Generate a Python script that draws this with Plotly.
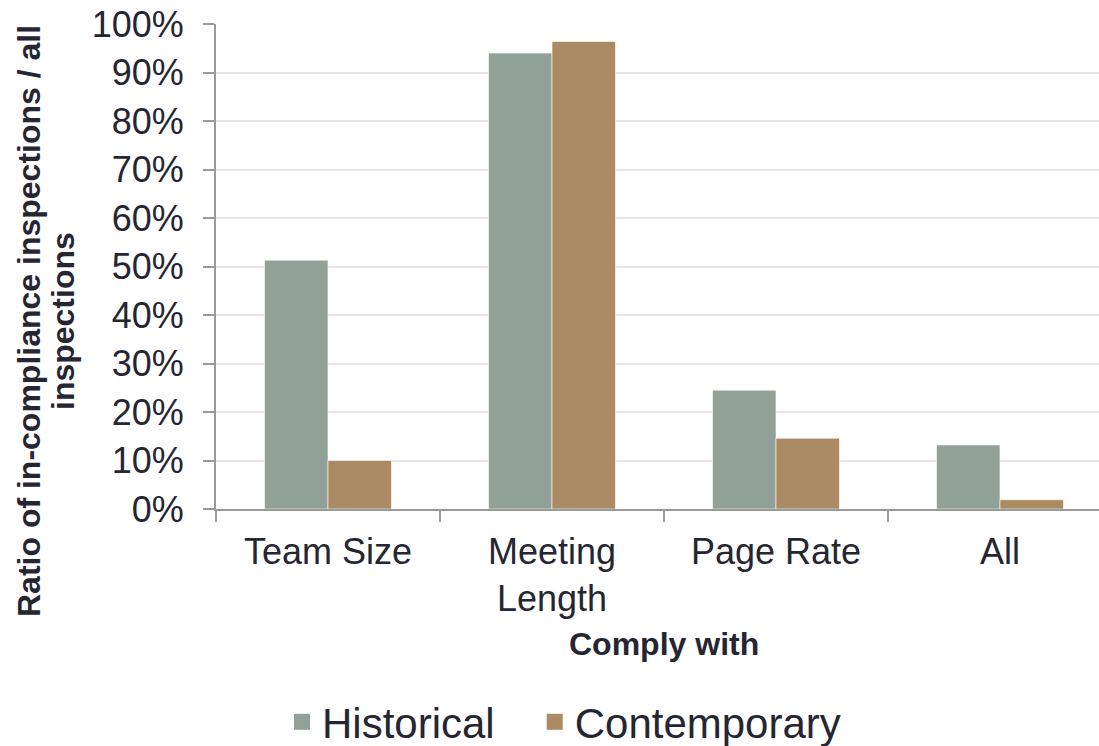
import plotly.graph_objects as go

categories = ["Team Size", "Meeting<br>Length", "Page Rate", "All"]
historical = [0.513, 0.940, 0.245, 0.132]
contemporary = [0.100, 0.964, 0.146, 0.019]
series_names = ["Historical", "Contemporary"]
y_ticks = [i / 10 for i in range(11)]
y_tick_labels = [f"{i * 10}%" for i in range(11)]

HIST_COLOR = "#91a197"
CONT_COLOR = "#aa8b63"
TEXT_COLOR = "#262633"
AXIS_COLOR = "#9a9a9a"
FONT = "Liberation Sans, Arial, sans-serif"

W, H = 1099, 746
LEFT, TOP, BOTTOM = 216, 24, 237
CAT_PX = 224  # pixels per category slot
PLOT_W, PLOT_H = W - LEFT, H - TOP - BOTTOM


def px_to_paper(x_px, y_px):
    return (x_px - LEFT) / PLOT_W, (H - BOTTOM - y_px) / PLOT_H


NBSP = "\u00a0"
fig = go.Figure()
for i, (name, vals, color) in enumerate(zip(series_names, [historical, contemporary],
                                             [HIST_COLOR, CONT_COLOR])):
    fig.add_trace(go.Bar(
        x=categories, y=vals, name=name, showlegend=False,
        marker=dict(color=color, line=dict(color="rgba(255,255,255,0.6)", width=1)),
    ))
    # legend entry with a larger square swatch; padding widens the gap between entries
    label = name + (NBSP * 3 if i == 0 else "")
    fig.add_trace(go.Scatter(
        x=[None], y=[None], mode="markers", name=label,
        marker=dict(symbol="square", size=20, color=color),
    ))

x_span = (W - LEFT) / CAT_PX

ann = []
cx, cy = px_to_paper(664, 644)
ann.append(dict(text="<b>Comply with</b>", xref="paper", yref="paper", x=cx, y=cy,
                xanchor="center", yanchor="middle", showarrow=False,
                font=dict(size=32, color=TEXT_COLOR)))
for line, xpx in [("Ratio of in-compliance inspections / all", 29), ("inspections", 63)]:
    ax, ay = px_to_paper(xpx, 321)
    ann.append(dict(text=f"<b>{line}</b>", xref="paper", yref="paper", x=ax, y=ay,
                    xanchor="center", yanchor="middle", showarrow=False, textangle=-90,
                    font=dict(size=32, color=TEXT_COLOR)))

fig.update_layout(
    width=W, height=H,
    margin=dict(l=LEFT, r=0, t=TOP, b=BOTTOM, autoexpand=False),
    paper_bgcolor="white", plot_bgcolor="white",
    barmode="group", bargap=0.433, bargroupgap=0,
    font=dict(family=FONT, color=TEXT_COLOR, size=36),
    xaxis=dict(
        range=[-0.5, -0.5 + x_span], type="category",
        showline=True, linecolor=AXIS_COLOR, linewidth=2,
        ticks="outside", tickson="boundaries", ticklen=11, tickcolor=AXIS_COLOR, tickwidth=2,
        tickfont=dict(size=36, color=TEXT_COLOR), showgrid=False, ticklabelstandoff=10,
    ),
    yaxis=dict(
        range=[0, 1], tickvals=y_ticks, ticktext=y_tick_labels,
        showline=True, linecolor=AXIS_COLOR, linewidth=2,
        ticks="outside", ticklen=11, tickcolor=AXIS_COLOR, tickwidth=2,
        tickfont=dict(size=36, color=TEXT_COLOR), ticklabelstandoff=12,
        showgrid=True, gridcolor="#e6e6e6", gridwidth=2, zeroline=False,
    ),
    legend=dict(
        orientation="h", xref="container", yref="container",
        x=564 / W, xanchor="center", y=24 / H, yanchor="middle",
        font=dict(size=42, color=TEXT_COLOR), itemwidth=30,
    ),
    annotations=ann,
)

fig.write_html("out.html")
